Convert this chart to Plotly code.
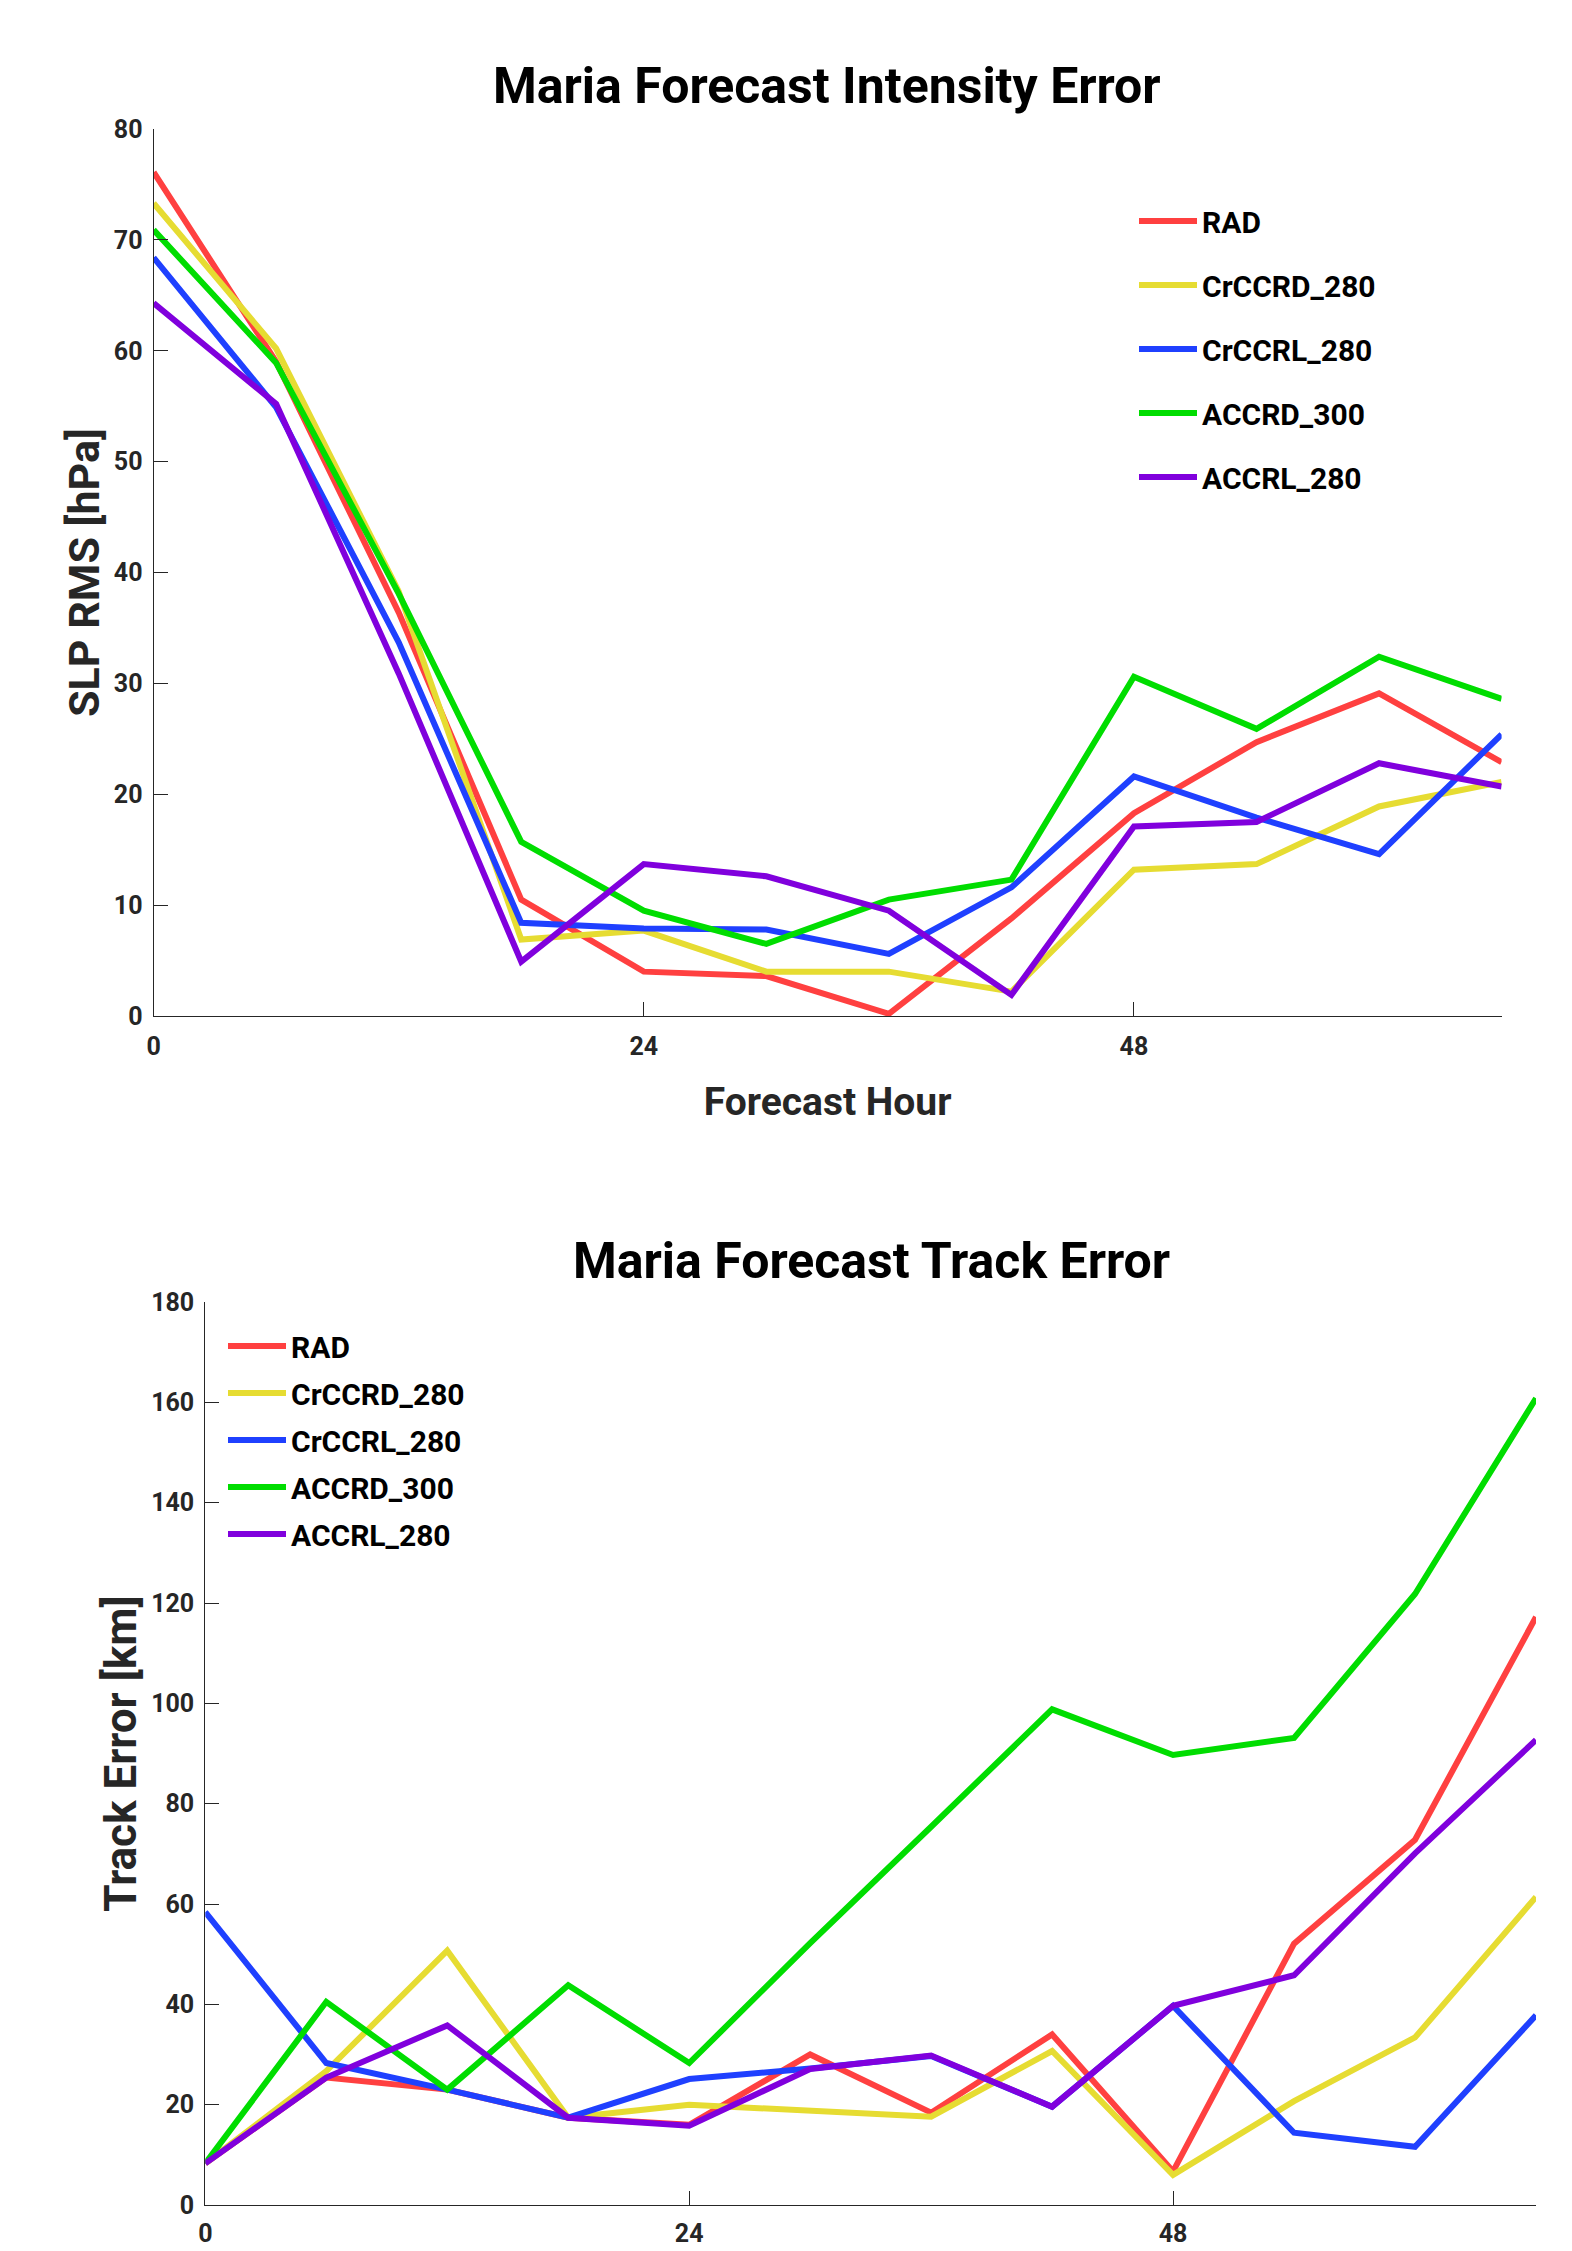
import plotly.graph_objects as go

W, H = 1572, 2251
OFF = 8  # page body margin

hours = [0, 6, 12, 18, 24, 30, 36, 42, 48, 54, 60, 66]
series_names = ["RAD", "CrCCRD_280", "CrCCRL_280", "ACCRD_300", "ACCRL_280"]
series_colors = ["#FF4040", "#E6DC32", "#1F40FF", "#00DD00", "#8000DD"]

# Intensity error (SLP RMS, hPa)
slp_rad = [76.1, 59.0, 36.4, 10.5, 4.0, 3.6, 0.2, 8.8, 18.3, 24.7, 29.1, 22.9]
slp_crccrd = [73.3, 60.2, 38.3, 6.9, 7.7, 4.0, 4.0, 2.2, 13.2, 13.7, 18.9, 21.1]
slp_crccrl = [68.4, 54.9, 33.7, 8.4, 7.9, 7.8, 5.6, 11.6, 21.6, 17.9, 14.6, 25.4]
slp_accrd = [70.9, 58.9, 38.1, 15.7, 9.5, 6.5, 10.5, 12.3, 30.6, 25.9, 32.4, 28.6]
slp_accrl = [64.3, 55.2, 30.9, 4.9, 13.7, 12.6, 9.5, 1.9, 17.1, 17.5, 22.8, 20.7]

# Track error (km)
trk_rad = [8.3, 25.4, 23.0, 17.4, 16.0, 30.0, 18.4, 34.0, 6.7, 52.1, 72.8, 117.2]
trk_crccrd = [8.3, 26.7, 50.7, 17.4, 20.0, 18.7, 17.6, 30.7, 6.0, 20.7, 33.4, 61.4]
trk_crccrl = [58.4, 28.3, 23.0, 17.4, 25.1, 27.2, 29.7, 19.6, 39.7, 14.4, 11.6, 37.8]
trk_accrd = [8.3, 40.5, 23.0, 43.8, 28.3, 52.2, 75.4, 98.8, 89.7, 93.1, 121.8, 160.8]
trk_accrl = [8.3, 25.4, 35.8, 17.4, 15.8, 27.1, 29.8, 19.6, 39.7, 45.8, 70.1, 92.7]

slp_series = [slp_rad, slp_crccrd, slp_crccrl, slp_accrd, slp_accrl]
trk_series = [trk_rad, trk_crccrd, trk_crccrl, trk_accrd, trk_accrl]

x_ticks = [0, 24, 48]
slp_ticks = list(range(0, 81, 10))
trk_ticks = list(range(0, 181, 20))

titles = ["Maria Forecast Intensity Error", "Maria Forecast Track Error"]
x_title = "Forecast Hour"
y_titles = ["SLP RMS [hPa]", "Track Error [km]"]

AX = "#262626"
FONT = "Roboto"


def px_x(p):
    return (p - OFF) / W


def px_y(p):
    return 1 - (p - OFF) / H


fig = go.Figure()

for i, (name, col) in enumerate(zip(series_names, series_colors)):
    fig.add_trace(go.Scatter(
        x=hours, y=slp_series[i], mode="lines", name=name,
        line=dict(color=col, width=6), xaxis="x", yaxis="y",
        legend="legend", legendgroup="a%d" % i))
for i, (name, col) in enumerate(zip(series_names, series_colors)):
    fig.add_trace(go.Scatter(
        x=hours, y=trk_series[i], mode="lines", name=name,
        line=dict(color=col, width=6), xaxis="x2", yaxis="y2",
        legend="legend2", legendgroup="b%d" % i))

axis_common = dict(
    showline=True, linecolor=AX, linewidth=1.2, ticks="inside", ticklen=14,
    tickcolor=AX, tickwidth=1.2, showgrid=False, zeroline=False, mirror=False,
    tickfont=dict(family=FONT, size=25, color=AX, weight="bold"),
    fixedrange=True, automargin=False,
)

fig.update_layout(
    width=W, height=H, margin=dict(l=0, r=0, t=0, b=0, autoexpand=False),
    paper_bgcolor="white", plot_bgcolor="white",
    xaxis=dict(domain=[px_x(153.6), px_x(1501.6)], range=[0, 66], tickvals=x_ticks,
               anchor="y", ticklabelstandoff=8,
               title=dict(text=x_title, standoff=27,
                          font=dict(family=FONT, size=39, color=AX, weight="bold")),
               **axis_common),
    yaxis=dict(domain=[px_y(1016), px_y(129)], range=[0, 80], tickvals=slp_ticks,
               anchor="x", ticklabelstandoff=5,
               title=dict(text=y_titles[0], standoff=0,
                          font=dict(family=FONT, size=43, color=AX, weight="bold")),
               **axis_common),
    xaxis2=dict(domain=[px_x(205.3), px_x(1536)], range=[0, 66], tickvals=x_ticks,
                anchor="y2", ticklabelstandoff=6, **axis_common),
    yaxis2=dict(domain=[px_y(2205), px_y(1302)], range=[0, 180], tickvals=trk_ticks,
                anchor="x2", ticklabelstandoff=5,
                title=dict(text=y_titles[1], standoff=0,
                           font=dict(family=FONT, size=44, color=AX, weight="bold")),
                **axis_common),
    legend=dict(x=px_x(1134), y=px_y(195), xanchor="left", yanchor="top",
                bgcolor="rgba(0,0,0,0)", borderwidth=0, tracegroupgap=22,
                itemwidth=58,
                font=dict(family=FONT, size=30, color="black", weight="bold")),
    legend2=dict(x=px_x(223), y=px_y(1320), xanchor="left", yanchor="top",
                 bgcolor="rgba(0,0,0,0)", borderwidth=0, tracegroupgap=5,
                 itemwidth=58,
                 font=dict(family=FONT, size=30, color="black", weight="bold")),
    annotations=[
        dict(text=titles[0], x=px_x(827), y=px_y(86), xref="paper", yref="paper",
             xanchor="center", yanchor="middle", showarrow=False,
             font=dict(family=FONT, size=50, color="black", weight="bold")),
        dict(text=titles[1], x=px_x(871), y=px_y(1261), xref="paper", yref="paper",
             xanchor="center", yanchor="middle", showarrow=False,
             font=dict(family=FONT, size=50, color="black", weight="bold")),
    ],
)

fig.write_html("out.html")
